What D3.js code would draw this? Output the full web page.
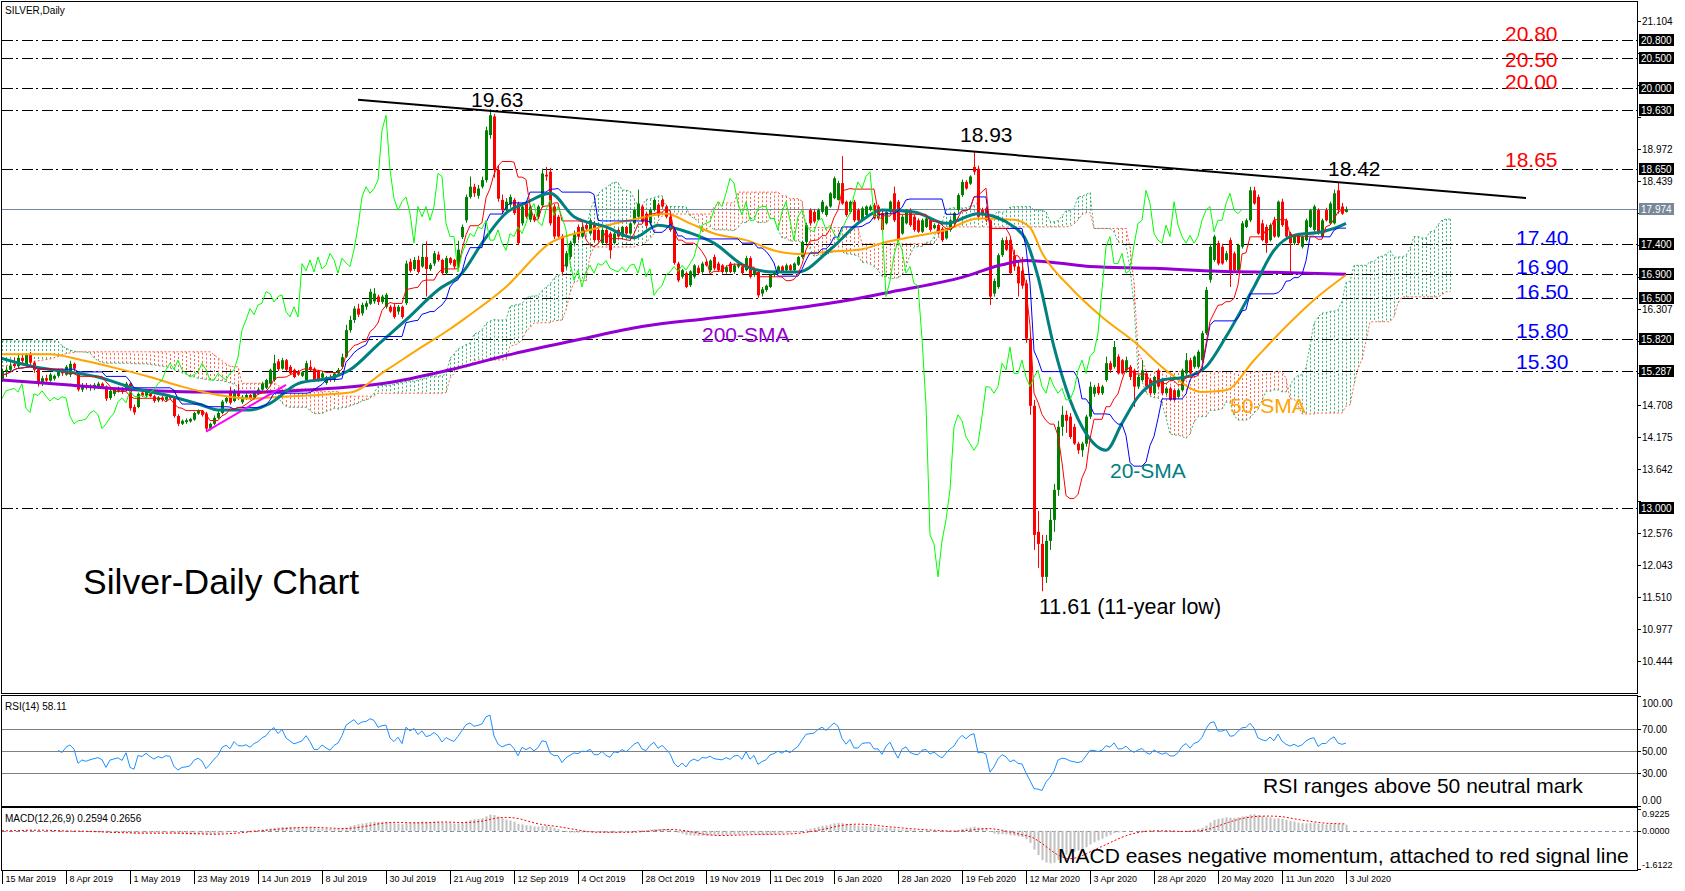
<!DOCTYPE html>
<html><head><meta charset="utf-8">
<script src="https://cdn.jsdelivr.net/npm/d3@7"></script>
<style>body{margin:0;background:#fff}svg{display:block}text{font-family:"Liberation Sans",Arial,sans-serif}</style>
</head><body><svg id="c" width="1685" height="891"></svg>
<script>
const dates=["15 Mar 2019","8 Apr 2019","1 May 2019","23 May 2019","14 Jun 2019","8 Jul 2019","30 Jul 2019","21 Aug 2019","12 Sep 2019","4 Oct 2019","28 Oct 2019","19 Nov 2019","11 Dec 2019","6 Jan 2020","28 Jan 2020","19 Feb 2020","12 Mar 2020","3 Apr 2020","28 Apr 2020","20 May 2020","11 Jun 2020","3 Jul 2020"];
const dateIdx=[0,16,32,48,64,80,96,112,128,144,160,176,192,208,224,240,256,272,288,304,320,336];
const open=[15.15,15.27,15.30,15.40,15.36,15.50,15.38,15.55,15.42,15.30,
15.08,15.16,15.12,15.15,15.20,15.28,15.22,15.22,15.40,15.24,
14.97,15.04,15.00,15.00,15.02,15.07,15.02,14.83,14.90,14.95,
14.99,14.96,15.07,14.68,14.68,14.92,14.87,14.93,14.86,14.79,
14.84,14.80,14.85,14.83,14.53,14.40,14.43,14.44,14.47,14.57,
14.62,14.57,14.32,14.40,14.50,14.58,14.77,14.95,14.78,14.93,
14.76,14.82,14.88,14.83,14.90,14.97,15.00,15.07,15.13,15.44,
15.32,15.46,15.35,15.30,15.27,15.20,15.13,15.35,15.32,15.28,
15.17,15.08,15.18,15.13,15.24,15.35,15.52,15.96,16.13,16.32,
16.24,16.35,16.40,16.44,16.52,16.43,16.35,16.35,16.35,16.27,
16.35,16.41,17.10,16.98,17.13,17.02,17.18,16.98,17.07,17.22,
17.13,16.91,17.16,17.13,17.02,17.51,17.79,18.18,18.35,18.20,
18.35,18.46,19.21,19.52,18.63,18.13,17.96,18.05,18.13,18.07,
17.74,18.07,17.80,17.85,17.85,18.04,18.55,18.60,18.02,17.85,
17.52,17.02,17.18,17.41,17.68,17.52,17.71,17.57,17.74,17.63,
17.41,17.63,17.57,17.41,17.63,17.52,17.68,17.57,17.74,17.85,
18.02,17.90,17.74,17.96,18.05,18.13,18.02,17.85,17.63,17.07,
16.85,16.91,16.71,16.85,17.00,16.93,17.10,16.96,17.18,17.07,
17.04,16.93,17.07,16.93,17.02,17.02,16.96,17.16,16.88,16.93,
16.57,16.63,16.68,16.88,16.93,17.02,16.96,17.04,16.96,17.05,
17.18,17.43,17.96,17.93,17.80,17.93,17.88,18.02,18.16,18.13,
18.41,18.10,17.93,18.10,17.96,17.79,17.88,17.96,18.04,18.02,
17.91,17.74,17.93,18.24,18.10,17.57,17.74,17.96,17.85,17.79,
17.60,17.68,17.79,17.66,17.71,17.65,17.49,17.63,17.74,17.96,
18.21,18.43,18.40,18.68,18.65,17.96,17.99,17.79,16.57,16.68,
17.21,17.46,17.46,17.20,17.02,16.95,16.74,15.82,14.70,12.60,
12.40,11.85,12.45,12.80,13.30,14.35,14.55,14.52,14.35,14.07,
13.96,14.07,14.52,14.90,15.02,14.91,15.13,15.41,15.35,15.52,
15.46,15.29,15.35,15.29,15.02,15.13,15.24,15.13,14.91,15.29,
15.13,14.91,14.99,14.96,14.85,14.96,15.24,15.46,15.35,15.35,
15.46,15.91,16.80,17.13,17.41,17.35,17.13,17.46,17.24,16.96,
17.35,17.68,17.79,18.29,18.18,17.74,17.68,17.46,17.79,17.52,
18.10,17.79,17.57,17.41,17.54,17.35,17.46,17.68,17.63,17.96,
17.52,17.96,17.74,17.74,18.29,18.02,17.93];
const high=[15.32,15.36,15.42,15.50,15.55,15.56,15.58,15.60,15.45,15.33,
15.20,15.22,15.25,15.22,15.32,15.32,15.38,15.45,15.42,15.27,
15.08,15.08,15.06,15.08,15.10,15.09,15.04,14.98,15.00,15.02,
15.01,15.10,15.09,14.72,14.92,14.96,14.98,14.96,14.88,14.86,
14.86,14.88,14.88,14.85,14.56,14.47,14.49,14.50,14.60,14.64,
14.63,14.60,14.42,14.54,14.62,14.80,14.86,15.02,14.98,15.07,
14.88,14.92,14.90,14.95,15.00,15.10,15.15,15.32,15.55,15.48,
15.50,15.48,15.38,15.32,15.30,15.28,15.45,15.46,15.34,15.30,
15.27,15.20,15.22,15.26,15.33,15.57,16.05,16.20,16.36,16.40,
16.42,16.45,16.65,16.66,16.55,16.55,16.58,16.38,16.40,16.38,
16.37,17.12,17.15,17.18,17.20,17.40,17.44,17.08,17.28,17.27,
17.15,17.20,17.18,17.15,17.45,17.72,18.22,18.52,18.40,18.38,
18.52,19.35,19.64,19.56,18.70,18.22,18.16,18.22,18.16,18.10,
18.06,18.10,18.05,17.90,18.05,18.65,18.68,18.66,18.06,17.88,
17.56,17.28,17.45,17.62,17.72,17.72,17.75,17.82,17.78,17.66,
17.66,17.66,17.60,17.60,17.66,17.70,17.70,17.76,17.98,18.30,
18.05,17.93,17.98,18.15,18.08,18.16,18.05,17.88,17.66,17.10,
16.98,16.94,16.96,17.06,17.04,17.10,17.13,17.14,17.22,17.10,
17.06,17.04,17.10,17.07,17.08,17.04,17.20,17.19,17.00,16.96,
16.68,16.72,16.90,16.95,17.04,17.04,17.07,17.06,17.09,17.20,
17.45,17.75,17.99,17.98,17.99,18.13,18.04,18.26,18.52,18.45,
18.86,18.12,18.12,18.13,17.99,18.02,18.04,18.05,18.08,18.05,
17.95,17.96,18.12,18.35,18.13,17.88,17.98,17.99,17.88,17.82,
17.82,17.85,17.82,17.74,17.74,17.68,17.65,17.82,17.93,18.24,
18.47,18.46,18.54,18.93,18.70,18.00,18.02,17.82,16.82,17.24,
17.50,17.52,17.50,17.30,17.10,17.18,16.80,15.90,14.80,12.95,
12.55,12.55,13.00,13.40,14.45,14.70,14.62,14.58,14.40,14.10,
14.10,14.55,15.10,15.05,15.08,15.05,15.52,15.45,15.78,15.56,
15.48,15.52,15.38,15.32,15.22,15.46,15.27,15.16,15.20,15.32,
15.16,15.02,15.02,14.99,14.99,15.32,15.58,15.50,15.54,15.63,
15.95,16.68,17.40,17.55,17.45,17.40,17.28,17.50,17.27,17.40,
17.78,17.82,18.35,18.35,18.22,17.80,17.72,17.74,17.85,18.12,
18.15,17.82,17.60,17.56,17.58,17.54,17.82,17.98,18.05,17.99,
17.82,18.00,18.10,18.30,18.42,18.08,18.02];
const low=[15.10,15.18,15.26,15.33,15.32,15.40,15.35,15.38,15.25,15.02,
15.03,15.08,15.10,15.12,15.17,15.20,15.20,15.18,15.28,14.94,
14.93,14.97,14.95,14.96,14.98,14.98,14.78,14.80,14.86,14.92,
14.90,14.94,14.62,14.55,14.66,14.85,14.84,14.84,14.75,14.76,
14.77,14.78,14.80,14.50,14.36,14.38,14.40,14.42,14.45,14.55,
14.52,14.27,14.29,14.38,14.48,14.56,14.74,14.72,14.76,14.80,
14.73,14.80,14.80,14.81,14.88,14.94,14.98,15.05,15.10,15.28,
15.30,15.28,15.22,15.16,15.20,15.18,15.10,15.28,15.10,15.10,
15.14,15.05,15.10,15.10,15.22,15.32,15.50,15.92,16.08,16.18,
16.20,16.30,16.38,16.40,16.38,16.40,16.32,16.25,16.15,16.22,
16.15,16.38,16.92,16.95,16.90,17.00,16.52,16.95,17.03,17.10,
16.88,16.88,17.05,16.98,17.00,17.48,17.75,18.15,18.18,18.15,
18.32,18.42,19.15,18.50,18.10,17.90,17.92,18.00,17.88,17.38,
17.70,17.82,17.76,17.76,17.82,18.00,18.45,17.70,17.48,17.50,
16.88,16.98,17.15,17.38,17.46,17.50,17.62,17.55,17.43,17.43,
17.40,17.38,17.15,17.39,17.50,17.50,17.55,17.55,17.72,17.82,
17.74,17.66,17.70,17.94,17.85,18.00,17.82,17.60,17.05,16.76,
16.82,16.66,16.68,16.82,16.88,16.90,17.02,16.93,16.96,16.93,
16.90,16.90,16.91,16.90,16.99,16.88,16.94,16.82,16.85,16.50,
16.52,16.60,16.66,16.85,16.90,16.92,16.94,16.94,16.94,17.03,
17.15,17.40,17.70,17.74,17.78,17.90,17.85,18.00,18.14,18.12,
18.05,17.85,17.90,17.76,17.76,17.77,17.86,17.94,17.80,17.79,
17.60,17.72,17.90,17.76,17.43,17.55,17.72,17.68,17.60,17.58,
17.58,17.66,17.60,17.64,17.55,17.43,17.47,17.60,17.72,17.93,
18.18,18.30,18.38,18.55,17.82,17.85,17.76,16.38,16.52,16.65,
17.18,17.28,16.88,16.95,16.52,16.65,15.75,14.55,12.30,12.00,
11.61,11.75,12.30,12.60,13.20,14.20,14.25,14.15,14.05,13.90,
13.85,14.02,14.48,14.85,14.88,14.88,15.10,15.25,15.32,15.22,
15.22,15.25,15.13,14.68,14.98,15.10,15.00,14.88,14.88,15.00,
14.88,14.88,14.78,14.78,14.82,14.94,15.20,15.22,15.32,15.32,
15.43,15.88,16.75,17.10,17.04,17.05,17.10,16.68,16.94,16.92,
17.32,17.66,17.76,18.05,17.55,17.44,17.25,17.44,17.50,17.50,
17.68,17.50,16.90,17.38,17.38,17.32,17.44,17.66,17.60,17.55,
17.50,17.77,17.72,17.72,17.90,17.88,17.92];
const close=[15.27,15.30,15.37,15.36,15.50,15.45,15.55,15.42,15.30,15.08,
15.16,15.12,15.22,15.20,15.28,15.24,15.35,15.40,15.32,14.97,
15.04,15.00,15.03,15.05,15.07,15.02,14.82,14.95,14.97,14.99,
14.93,15.07,14.66,14.59,14.90,14.87,14.95,14.86,14.78,14.84,
14.80,14.85,14.83,14.53,14.40,14.45,14.46,14.48,14.58,14.62,
14.55,14.32,14.40,14.50,14.58,14.77,14.83,14.75,14.95,14.86,
14.85,14.88,14.83,14.92,14.97,15.07,15.13,15.30,15.41,15.31,
15.46,15.30,15.24,15.18,15.22,15.26,15.41,15.30,15.13,15.13,
15.24,15.18,15.13,15.24,15.30,15.51,15.96,16.13,16.32,16.22,
16.38,16.41,16.60,16.57,16.43,16.52,16.55,16.27,16.18,16.35,
16.18,17.07,16.95,17.13,16.93,17.18,16.98,17.05,17.24,17.13,
16.91,17.16,17.08,17.02,17.30,17.68,18.18,18.35,18.24,18.32,
18.46,19.29,19.54,18.63,18.15,17.96,18.10,18.18,17.91,17.41,
18.02,17.85,18.02,17.79,18.02,18.57,18.52,17.74,17.52,17.52,
16.93,17.24,17.41,17.57,17.52,17.68,17.65,17.79,17.46,17.46,
17.63,17.41,17.29,17.57,17.52,17.68,17.57,17.74,17.96,18.07,
17.77,17.70,17.96,18.13,17.87,18.02,17.85,17.63,17.08,16.79,
16.96,16.68,16.94,17.04,16.91,17.07,17.04,17.12,16.99,16.96,
16.93,17.01,16.93,17.04,17.06,16.91,17.16,16.85,16.98,16.54,
16.64,16.70,16.88,16.93,17.02,16.94,17.04,16.96,17.07,17.18,
17.43,17.71,17.74,17.77,17.96,18.10,18.02,18.24,18.49,18.41,
18.07,17.88,18.10,17.79,17.79,17.99,18.02,18.02,17.82,17.82,
17.63,17.93,18.10,17.79,17.46,17.85,17.96,17.71,17.63,17.60,
17.79,17.82,17.63,17.71,17.57,17.46,17.63,17.79,17.91,18.21,
18.43,18.32,18.52,18.60,17.85,17.88,17.79,16.52,16.78,17.21,
17.46,17.30,16.91,17.02,16.74,16.70,15.82,14.70,12.55,12.40,
11.85,12.45,12.80,13.30,14.35,14.55,14.45,14.18,14.07,13.96,
14.07,14.52,15.02,15.01,14.91,15.02,15.41,15.30,15.68,15.24,
15.24,15.46,15.18,15.02,15.18,15.29,15.02,14.91,15.18,15.02,
14.91,14.99,14.80,14.80,14.96,15.29,15.46,15.24,15.52,15.60,
15.91,16.63,17.35,17.52,17.07,17.07,17.24,16.91,16.96,17.38,
17.74,17.79,18.29,18.07,17.57,17.46,17.41,17.71,17.52,18.10,
17.71,17.52,17.41,17.54,17.41,17.52,17.79,17.96,18.02,17.60,
17.79,17.79,18.07,18.24,17.96,17.90,17.974];
// moving averages: [bar index, value]
const sma20=[[0,15.49],[8,15.35],[16,15.27],[24,15.18],[33,14.99],[41,14.88],[50,14.71],[54,14.63],[62,14.63],[67,14.74],[74,15.07],[83,15.18],[87,15.3],[94,15.72],[101,16.13],[109,16.63],[115,16.91],[120,17.41],[126,17.91],[131,18.08],[137,18.24],[143,17.85],[151,17.68],[158,17.5],[164,17.71],[172,17.58],[178,17.41],[186,17.02],[193,16.93],[199,16.93],[207,17.3],[215,17.79],[220,17.96],[228,17.93],[236,17.74],[244,17.9],[253,17.68],[256,17.46],[259,16.85],[263,15.68],[267,14.8],[271,14.24],[276,13.96],[280,14.41],[284,14.85],[290,15.13],[296,15.18],[301,15.35],[306,15.85],[313,16.68],[318,17.29],[323,17.54],[330,17.6],[334,17.68],[336,17.74]];
const sma50=[[0,15.56],[12,15.56],[20,15.46],[29,15.32],[37,15.18],[45,15.02],[54,14.88],[62,14.82],[70,14.85],[79,14.88],[87,14.92],[96,15.29],[104,15.64],[112,15.98],[116,16.17],[126,16.68],[137,17.41],[147,17.63],[159,17.82],[166,17.9],[172,17.74],[178,17.57],[186,17.46],[194,17.27],[199,17.23],[207,17.27],[215,17.31],[221,17.43],[228,17.52],[236,17.63],[244,17.82],[253,17.8],[257,17.67],[260,17.25],[267,16.68],[275,16.18],[283,15.77],[292,15.24],[300,14.93],[306,14.96],[313,15.46],[321,16.02],[329,16.52],[336,16.88]];
const sma200=[[0,15.13],[16,15.05],[32,14.97],[48,14.93],[64,14.93],[80,14.98],[96,15.08],[112,15.3],[128,15.57],[144,15.8],[160,16.02],[176,16.15],[192,16.27],[208,16.42],[224,16.62],[240,16.84],[250,17.05],[256,17.12],[264,17.08],[272,17.02],[288,16.99],[304,16.94],[320,16.92],[336,16.89]];
// early Ichimoku cloud values (bars 0..59)
const cloudAEarly=[15.78,15.78,15.78,15.78,15.78,15.78,15.78,15.78,15.78,15.78,15.78,15.78,15.78,15.78,15.78,15.70,15.66,15.63,15.61,15.60,15.60,15.59,15.58,15.50,15.45,15.42,15.41,15.41,15.41,15.41,15.41,15.41,15.41,15.40,15.40,15.40,15.40,15.39,15.38,15.37,15.36,15.35,15.33,15.30,15.28,15.25,15.23,15.20,15.18,15.16,15.15,15.14,15.13,15.13,15.12,15.12,15.10,15.08,15.06,15.02];
const cloudBEarly=[15.36,15.37,15.38,15.39,15.40,15.41,15.42,15.43,15.44,15.45,15.46,15.47,15.48,15.50,15.52,15.55,15.57,15.58,15.59,15.60,15.60,15.60,15.60,15.60,15.60,15.60,15.60,15.60,15.60,15.60,15.60,15.60,15.60,15.60,15.60,15.60,15.60,15.60,15.60,15.60,15.60,15.60,15.60,15.60,15.60,15.60,15.60,15.60,15.60,15.60,15.60,15.60,15.60,15.55,15.50,15.45,15.40,15.36,15.35,15.35];
const levels=[20.80,20.50,20.00,19.63,18.65,17.40,16.90,16.50,15.82,15.287,13.00];
const priceTicks=[10.444,10.977,11.510,12.043,12.576,13.109,13.642,14.175,14.708,15.241,15.774,16.307,16.840,17.373,17.906,18.439,18.972,19.505,20.038,20.571,21.104];
const lastPrice=17.974;
const redLabels=[[20.80,"20.80",1],[20.50,"20.50",9],[20.00,"20.00",1],[18.65,"18.65",-2]];
const blueLabels=[[17.40,"17.40",1],[16.90,"16.90",0],[16.50,"16.50",1],[15.82,"15.80",-1],[15.287,"15.30",-2]];
const downX=[89,381], downY=[19.80,18.16];
const upX=[51,71], upY=[14.27,15.05];
const rsiTicks=[100,70,50,30,0];

const n=close.length;
const svg=d3.select("#c");
const x=d3.scaleLinear().domain([0,336]).range([2,1346]);
const y=d3.scaleLinear().domain([9.916,21.427]).range([693,2]);
const yR=d3.scaleLinear().domain([0,100]).range([806,696]);
const yM=d3.scaleLinear().domain([-1.6122,0.9225]).range([869,809]);
const R=1637;

const defs=svg.append("defs");
defs.append("clipPath").attr("id","cm").append("rect").attr("x",2).attr("y",2).attr("width",R-2).attr("height",691);
defs.append("clipPath").attr("id","cr").append("rect").attr("x",2).attr("y",697).attr("width",R-2).attr("height",109);
defs.append("clipPath").attr("id","cd").append("rect").attr("x",2).attr("y",809).attr("width",R-2).attr("height",61);

// ---- Ichimoku
function midWin(i,p){let s=Math.max(0,i-p+1),h=-Infinity,l=Infinity;for(let k=s;k<=i;k++){h=Math.max(h,high[k]);l=Math.min(l,low[k]);}return (h+l)/2;}
const tenkan=d3.range(n).map(i=>midWin(i,9));
const kijun=d3.range(n).map(i=>midWin(i,26));
const cloud=d3.range(n+26).map(j=>{
  if(j<cloudAEarly.length) return {j,a:cloudAEarly[j],b:cloudBEarly[j]};
  const s=j-26; return {j,a:(tenkan[s]+kijun[s])/2,b:midWin(s,52)};
});
const chikou=d3.range(n-26).map(i=>[i,close[i+26]]);

const gm=svg.append("g").attr("clip-path","url(#cm)");
gm.append("g").selectAll("line").data(cloud).join("line")
 .attr("x1",d=>x(d.j)+0.5).attr("x2",d=>x(d.j)+0.5)
 .attr("y1",d=>y(d.a)).attr("y2",d=>y(d.b))
 .attr("stroke",d=>d.a>=d.b?"#3CB371":"#FF6347").attr("stroke-width",1).attr("stroke-dasharray","2,2");
const lin=d3.line().x(d=>x(d[0])).y(d=>y(d[1]));
gm.append("path").attr("d",lin(cloud.map(d=>[d.j,d.a]))).attr("fill","none").attr("stroke","#3CB371").attr("stroke-dasharray","2,2");
gm.append("path").attr("d",lin(cloud.map(d=>[d.j,d.b]))).attr("fill","none").attr("stroke","#FF6347").attr("stroke-dasharray","2,2");

// levels
gm.append("g").selectAll("line").data(levels).join("line")
 .attr("x1",2).attr("x2",R).attr("y1",d=>Math.round(y(d))+0.5).attr("y2",d=>Math.round(y(d))+0.5)
 .attr("stroke","#000").attr("stroke-dasharray","11,3,2,4");
gm.append("line").attr("x1",2).attr("x2",R).attr("y1",Math.round(y(lastPrice))+0.5).attr("y2",Math.round(y(lastPrice))+0.5).attr("stroke","#778899");

// candles
const bars=d3.range(n).map(i=>({i,o:open[i],h:high[i],l:low[i],c:close[i]}));
const col=d=>d.c>=d.o?"#008000":"#FF0000";
gm.append("g").selectAll("line").data(bars).join("line")
 .attr("x1",d=>x(d.i)+0.5).attr("x2",d=>x(d.i)+0.5).attr("y1",d=>y(d.h)).attr("y2",d=>y(d.l)).attr("stroke",col);
gm.append("g").selectAll("rect").data(bars).join("rect")
 .attr("x",d=>x(d.i)-1).attr("width",3).attr("y",d=>y(Math.max(d.o,d.c)))
 .attr("height",d=>Math.max(1,Math.abs(y(d.o)-y(d.c)))).attr("fill",col);

// lines
const smooth=d3.line().x(d=>x(d[0])).y(d=>y(d[1])).curve(d3.curveMonotoneX);
gm.append("path").attr("d",smooth(sma200)).attr("fill","none").attr("stroke","#9400D3").attr("stroke-width",3);
gm.append("path").attr("d",smooth(sma50)).attr("fill","none").attr("stroke","#FFA500").attr("stroke-width",2);
gm.append("path").attr("d",smooth(sma20)).attr("fill","none").attr("stroke","#008080").attr("stroke-width",3);
gm.append("path").attr("d",lin(kijun.map((v,i)=>[i,v]))).attr("fill","none").attr("stroke","#0000FF");
gm.append("path").attr("d",lin(tenkan.map((v,i)=>[i,v]))).attr("fill","none").attr("stroke","#FF0000");
gm.append("path").attr("d",lin(chikou)).attr("fill","none").attr("stroke","#00FF00");
gm.append("path").attr("d",lin(downX.map((v,i)=>[v,downY[i]]))).attr("fill","none").attr("stroke","#000").attr("stroke-width",2);
gm.append("path").attr("d",lin(upX.map((v,i)=>[v,upY[i]]))).attr("fill","none").attr("stroke","#FF00FF").attr("stroke-width",2);

// annotations
function t(g,xx,yy,s,size,fill){return g.append("text").attr("x",xx).attr("y",yy).attr("font-size",size).attr("fill",fill).text(s);}
t(gm,5,14,"SILVER,Daily",10,"#000");
t(gm,471,107,"19.63",21,"#000");
t(gm,960,142,"18.93",21,"#000");
t(gm,1328,176,"18.42",21,"#000");
t(gm,1039,614,"11.61 (11-year low)",21.5,"#000");
t(gm,83,594,"Silver-Daily Chart",35.5,"#000");
t(gm,702,342,"200-SMA",21,"#9400D3");
t(gm,1230,413,"50-SMA",21,"#FFA500");
t(gm,1110,478,"20-SMA",21,"#008080");
redLabels.forEach(d=>t(gm,1505,y(d[0])+d[2],d[1],21,"#FF0000"));
blueLabels.forEach(d=>t(gm,1516,y(d[0])+d[2],d[1],21,"#0000FF"));

// ---- RSI
const rsi=[];let ag=0,al=0;
for(let i=1;i<n;i++){const ch=close[i]-close[i-1],g=Math.max(ch,0),l=Math.max(-ch,0);
 if(i<=14){ag=(ag*(i-1)+g)/i;al=(al*(i-1)+l)/i;}else{ag=(ag*13+g)/14;al=(al*13+l)/14;}
 if(i>=14) rsi.push([i,al===0?100:100-100/(1+ag/al)]);}
const gr=svg.append("g").attr("clip-path","url(#cr)");
gr.selectAll("line").data([70,50,30]).join("line").attr("x1",2).attr("x2",R)
 .attr("y1",d=>Math.round(yR(d))+0.5).attr("y2",d=>Math.round(yR(d))+0.5).attr("stroke","#808080");
gr.append("path").attr("d",d3.line().x(d=>x(d[0])).y(d=>yR(d[1]))(rsi)).attr("fill","none").attr("stroke","#1E90FF");
t(gr,5,710,"RSI(14) 58.11",10,"#000");
t(gr,1263,793,"RSI ranges above 50 neutral mark",21,"#000");

// ---- MACD
let e12=close[0],e26=close[0];const macd=[];
for(let i=0;i<n;i++){e12+= (close[i]-e12)*2/13; e26+=(close[i]-e26)*2/27; macd.push(e12-e26);}
const signal=macd.map((v,i)=>d3.mean(macd.slice(Math.max(0,i-8),i+1)));
const gd=svg.append("g").attr("clip-path","url(#cd)");
gd.append("line").attr("x1",2).attr("x2",R).attr("y1",Math.round(yM(0))+0.5).attr("y2",Math.round(yM(0))+0.5).attr("stroke","#8090A0").attr("stroke-dasharray","4,3");
gd.append("g").selectAll("rect").data(macd).join("rect")
 .attr("x",(d,i)=>x(i)-0.5).attr("width",2).attr("y",d=>Math.min(yM(d),yM(0))).attr("height",d=>Math.abs(yM(d)-yM(0))).attr("fill","#C0C0C0");
gd.append("path").attr("d",d3.line().x((d,i)=>x(i)).y(d=>yM(d))(signal)).attr("fill","none").attr("stroke","#FF0000").attr("stroke-dasharray","2,2");
t(gd,5,822,"MACD(12,26,9) 0.2594 0.2656",10,"#000");
t(gd,1058,863,"MACD eases negative momentum, attached to red signal line",21,"#000");

// ---- frames
[[2,2,693],[2,696,806],[2,808,870]].forEach(([a,b,c])=>svg.append("rect").attr("x",a-0.5).attr("y",b-0.5).attr("width",R-a+1).attr("height",c-b+1).attr("fill","none").attr("stroke","#000"));

// ---- right axis
const ax=svg.append("g").attr("font-size",10);
const boxYs=levels.concat([lastPrice]).map(v=>y(v));
priceTicks.forEach(v=>{const yy=Math.round(y(v))+0.5;ax.append("line").attr("x1",R).attr("x2",R+4).attr("y1",yy).attr("y2",yy).attr("stroke","#000");
 if(boxYs.every(b=>Math.abs(b-yy)>11)) t(ax,R+5,yy+3.5,v.toFixed(3),10,"#000");});
levels.forEach(v=>{const yy=Math.round(y(v));ax.append("rect").attr("x",R+2).attr("y",yy-6).attr("width",35).attr("height",12).attr("fill","#000");
 t(ax,R+4,yy+4,v.toFixed(3),10,"#fff");});
{const yy=Math.round(y(lastPrice));ax.append("rect").attr("x",R+2).attr("y",yy-6).attr("width",35).attr("height",12).attr("fill","#778899");
 t(ax,R+4,yy+4,lastPrice.toFixed(3),10,"#fff");}
rsiTicks.forEach(v=>{const yy=Math.round(yR(v))+0.5;const ty=Math.min(Math.max(yy,703),800);
 ax.append("line").attr("x1",R).attr("x2",R+4).attr("y1",yy).attr("y2",yy).attr("stroke","#000");
 t(ax,R+5,ty+3.5,v.toFixed(2),10,"#000");});
[[0.9225,814],[0,831],[-1.6122,865]].forEach(([v,ty])=>{const yy=Math.round(yM(v))+0.5;
 ax.append("line").attr("x1",R).attr("x2",R+4).attr("y1",yy).attr("y2",yy).attr("stroke","#000");
 t(ax,R+5,ty+3,v.toFixed(4),9,"#000");});

// ---- date axis
dateIdx.forEach((i,k)=>{const xx=Math.round(x(i))+0.5;
 ax.append("line").attr("x1",xx).attr("x2",xx).attr("y1",870).attr("y2",884).attr("stroke","#000");
 t(ax,xx+3,882,dates[k],9,"#000");});
</script></body></html>
